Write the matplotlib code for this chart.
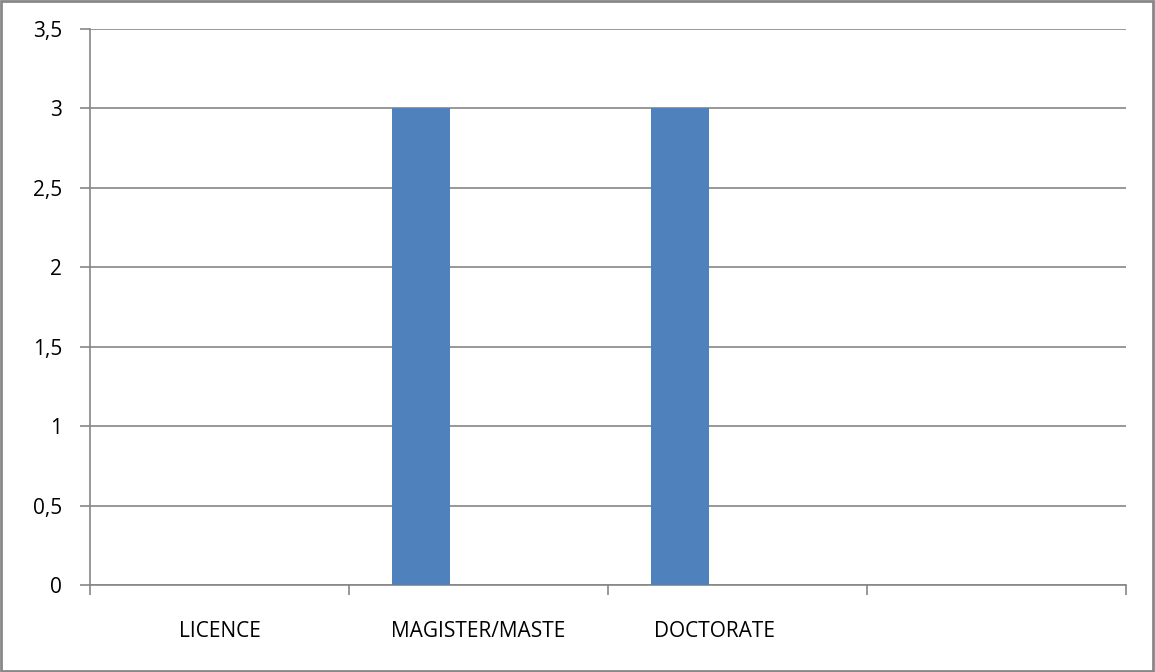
import numpy as np
import matplotlib
matplotlib.use("Agg")
import matplotlib.pyplot as plt
import matplotlib.transforms as mtransforms
from matplotlib.patches import Rectangle
from matplotlib.ticker import FuncFormatter, MultipleLocator

categories = ["LICENCE", "MAGISTER/MASTE", "DOCTORATE", ""]
series1 = [0, 3, 3, 0]
series2 = [0, 0, 0, 0]
series3 = [0, 0, 0, 0]

plt.rcParams["font.family"] = ["Open Sans", "DejaVu Sans"]
grey = "#868686"

fig = plt.figure(figsize=(11.55, 6.72), dpi=100)
ax = fig.add_axes([90 / 1155, 1 - 585 / 672, (1126 - 90) / 1155, (585 - 29) / 672])

x = np.arange(len(categories))
w = 1 / 4.5
for i, vals in enumerate([series1, series2, series3]):
    ax.bar(x + (i - 1) * w, vals, width=w, color="#4F81BD", zorder=3)

ax.set_xlim(-0.5, len(categories) - 0.5)
ax.set_ylim(0, 3.5)
ax.yaxis.set_major_locator(MultipleLocator(0.5))
ax.yaxis.set_major_formatter(FuncFormatter(lambda v, _: f"{v:g}".replace(".", ",")))
ax.grid(axis="y", color=grey, linewidth=1.2, zorder=0)

ax.set_xticks(x)
ax.set_xticklabels(categories)
ax.set_xticks(np.arange(len(categories) + 1) - 0.5, minor=True)
ax.tick_params(axis="x", which="major", length=0, pad=26, labelsize=15)
ax.tick_params(axis="x", which="minor", length=7, width=1.2, color=grey)
ax.tick_params(axis="y", length=7, width=1.2, color=grey, pad=13, labelsize=15)

# the DOCTORATE label sits a little left of its category centre in the original
lbl = ax.get_xticklabels()[2]
lbl.set_transform(lbl.get_transform() + mtransforms.ScaledTranslation(-23 / 100, 0, fig.dpi_scale_trans))

for side in ["top", "right"]:
    ax.spines[side].set_visible(False)
for side in ["left", "bottom"]:
    ax.spines[side].set_color(grey)
    ax.spines[side].set_linewidth(1.2)

# outer chart border
fig.patches.append(Rectangle((0.001, 0.002), 0.997, 0.996, transform=fig.transFigure,
                             fill=False, edgecolor="#878787", linewidth=2))

fig.savefig("out.png", dpi=100)
